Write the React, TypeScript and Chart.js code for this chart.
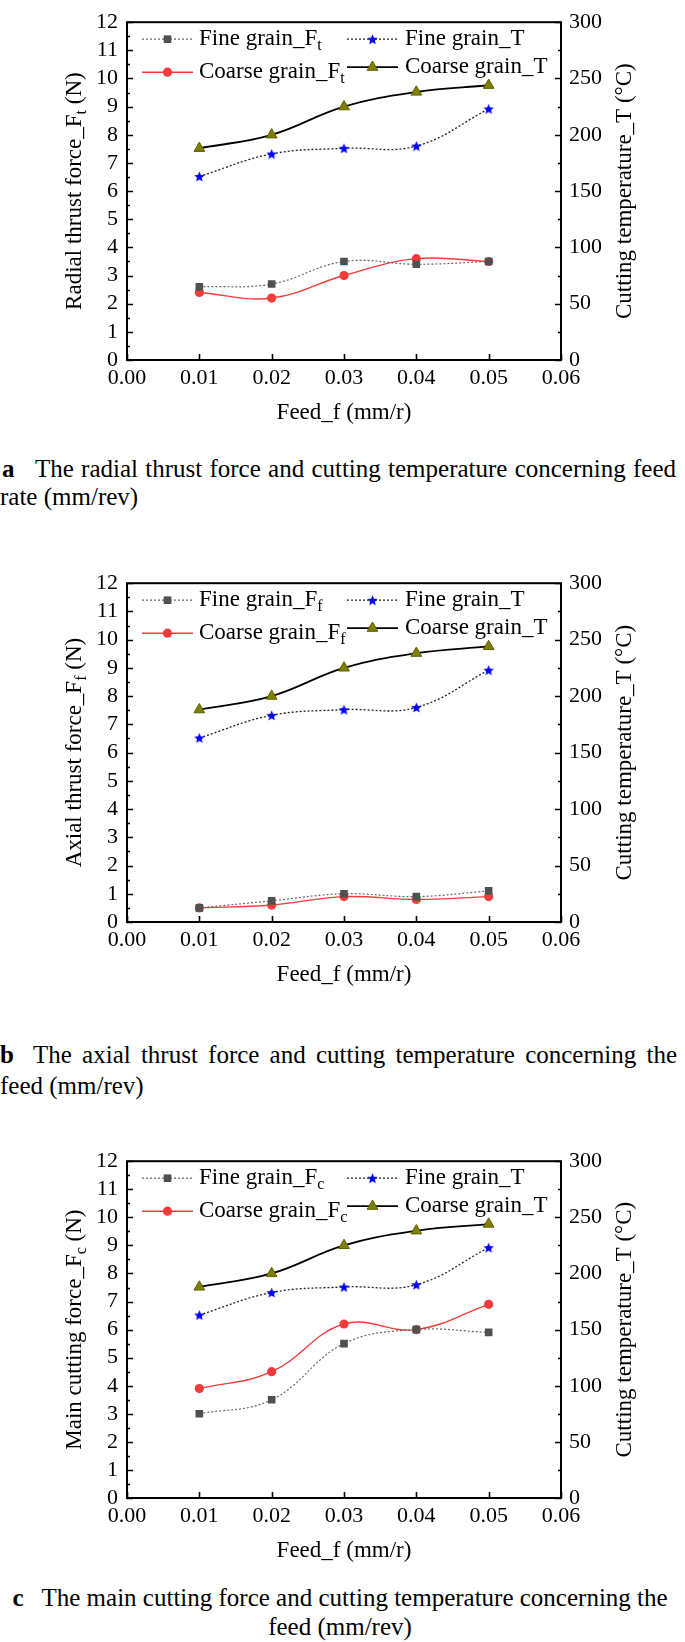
import React, { useEffect, useRef } from "react";
import { Chart, registerables } from "chart.js";
Chart.register(...registerables);

// ---------- data ----------
const FEED = [0.01, 0.02, 0.03, 0.04, 0.05];
const X_TICKS = [0, 0.01, 0.02, 0.03, 0.04, 0.05, 0.06];
const FORCE_TICKS = [0, 1, 2, 3, 4, 5, 6, 7, 8, 9, 10, 11, 12];
const TEMP_TICKS = [0, 50, 100, 150, 200, 250, 300];

const FINE_T = [163, 183, 188, 190, 223];
const COARSE_T = [188, 200, 225, 238, 244];

const FINE_FT = [2.6, 2.7, 3.5, 3.4, 3.5];
const COARSE_FT = [2.4, 2.2, 3.0, 3.6, 3.5];

const FINE_FF = [0.5, 0.75, 1.0, 0.9, 1.1];
const COARSE_FF = [0.5, 0.6, 0.9, 0.8, 0.9];

const FINE_FC = [3.0, 3.5, 5.5, 6.0, 5.9];
const COARSE_FC = [3.9, 4.5, 6.2, 6.0, 6.9];

const X_TITLE = "Feed_f (mm/r)";
const Y2_TITLE = "Cutting temperature_T (°C)";

type PanelDef = {
  plotTop: number;
  plotH: number;
  yTitle: string;
  sub: string;
  fine: number[];
  coarse: number[];
};

const PANELS: PanelDef[] = [
  { plotTop: 12, plotH: 348, yTitle: "Radial thrust force_F", sub: "t", fine: FINE_FT, coarse: COARSE_FT },
  { plotTop: 573, plotH: 349, yTitle: "Axial thrust force_F", sub: "f", fine: FINE_FF, coarse: COARSE_FF },
  { plotTop: 1151, plotH: 347, yTitle: "Main cutting force_F", sub: "c", fine: FINE_FC, coarse: COARSE_FC },
];

// ---------- style ----------
const FAMILY = '"Liberation Serif", "Times New Roman", serif';
const W = 685;
const CANVAS_H = 440;
const PAD_TOP = 12;
const LEFT_W = 127;
const RIGHT_W = 124;
const TITLE_PX = 23;
const TICK_PX = 22;

const C_FINE_F = "#505050";
const C_COARSE_F = "#f23c3c";
const C_STAR = "#0000ff";
const C_TRI = "#808000";

function makeStar(color: string, R: number) {
  const size = Math.ceil(R * 2 + 2);
  const c = document.createElement("canvas");
  c.width = size;
  c.height = size;
  const g = c.getContext("2d")!;
  g.fillStyle = color;
  g.beginPath();
  for (let i = 0; i < 10; i++) {
    const r = i % 2 === 0 ? R : R * 0.45;
    const ang = -Math.PI / 2 + (i * Math.PI) / 5;
    const px = size / 2 + r * Math.cos(ang);
    const py = size / 2 + r * Math.sin(ang) + 0.5;
    if (i === 0) g.moveTo(px, py);
    else g.lineTo(px, py);
  }
  g.closePath();
  g.fill();
  return c;
}

function ChartPanel({ p }: { p: PanelDef }) {
  const ref = useRef<HTMLCanvasElement>(null);
  useEffect(() => {
    const canvas = ref.current!;
    const star = makeStar(C_STAR, 5.5);
    const xAxisH = CANVAS_H - PAD_TOP - p.plotH;

    const drawTri = (ctx: CanvasRenderingContext2D, x: number, y: number, r: number) => {
      ctx.beginPath();
      for (let i = 0; i < 3; i++) {
        const a = -Math.PI / 2 + (i * 2 * Math.PI) / 3;
        const px = x + r * Math.cos(a);
        const py = y + r * Math.sin(a);
        if (i === 0) ctx.moveTo(px, py);
        else ctx.lineTo(px, py);
      }
      ctx.closePath();
      ctx.fillStyle = C_TRI;
      ctx.fill();
      ctx.strokeStyle = "#5e5e00";
      ctx.lineWidth = 1;
      ctx.stroke();
    };

    const framePlugin = {
      id: "frame",
      afterDraw(chart: any) {
        const ctx: CanvasRenderingContext2D = chart.ctx;
        const a = chart.chartArea;
        const sy = chart.scales.y;
        const sy2 = chart.scales.y2;
        const sx = chart.scales.x;
        ctx.save();
        // frame
        ctx.strokeStyle = "#000";
        ctx.lineWidth = 2;
        ctx.setLineDash([]);
        ctx.strokeRect(a.left, a.top, a.right - a.left, a.bottom - a.top);
        // ticks
        ctx.lineWidth = 1.6;
        ctx.beginPath();
        for (let v = 0; v <= 12.001; v += 0.5) {
          const py = Math.round(sy.getPixelForValue(v)) + 0.5;
          const len = Math.abs(v - Math.round(v)) < 1e-6 ? 6 : 3;
          ctx.moveTo(a.left, py);
          ctx.lineTo(a.left + len, py);
        }
        for (let v = 0; v <= 300.001; v += 25) {
          const py = Math.round(sy2.getPixelForValue(v)) + 0.5;
          const len = v % 50 === 0 ? 6 : 3;
          ctx.moveTo(a.right, py);
          ctx.lineTo(a.right - len, py);
        }
        X_TICKS.forEach((v) => {
          const px = Math.round(sx.getPixelForValue(v)) + 0.5;
          ctx.moveTo(px, a.bottom);
          ctx.lineTo(px, a.bottom - 6);
        });
        ctx.stroke();

        // titles
        ctx.fillStyle = "#000";
        ctx.textBaseline = "middle";
        const big = `${TITLE_PX}px ${FAMILY}`;
        const small = `${Math.round(TITLE_PX * 0.68)}px ${FAMILY}`;
        const cy = (a.top + a.bottom) / 2;
        // left title (rotated)
        ctx.save();
        ctx.translate(75, cy);
        ctx.rotate(-Math.PI / 2);
        ctx.font = big;
        const w1 = ctx.measureText(p.yTitle).width;
        const w3 = ctx.measureText(" (N)").width;
        ctx.font = small;
        const w2 = ctx.measureText(p.sub).width;
        const x0 = -(w1 + w2 + w3) / 2;
        ctx.textAlign = "left";
        ctx.font = big;
        ctx.fillText(p.yTitle, x0, 0);
        ctx.font = small;
        ctx.fillText(p.sub, x0 + w1, 7);
        ctx.font = big;
        ctx.fillText(" (N)", x0 + w1 + w2, 0);
        ctx.restore();
        // right title
        ctx.save();
        ctx.translate(625, cy);
        ctx.rotate(-Math.PI / 2);
        ctx.font = big;
        ctx.textAlign = "center";
        ctx.fillText(Y2_TITLE, 0, 0);
        ctx.restore();
        // x title
        ctx.font = big;
        ctx.textAlign = "center";
        ctx.fillText(X_TITLE, (a.left + a.right) / 2, a.bottom + 53);

        // legend
        const L = a.left;
        const T = a.top;
        const items = [
          { col: 0, y: T + 17, kind: "sq", label: "Fine grain_F", sub: p.sub },
          { col: 1, y: T + 17, kind: "star", label: "Fine grain_T", sub: "" },
          { col: 0, y: T + 50, kind: "circ", label: "Coarse grain_F", sub: p.sub },
          { col: 1, y: T + 45, kind: "tri", label: "Coarse grain_T", sub: "" },
        ];
        items.forEach((it) => {
          const lx = L + (it.col === 0 ? 15 : 220);
          const mx = lx + 25.5;
          const tx = lx + (it.col === 0 ? 57 : 58);
          ctx.save();
          ctx.beginPath();
          if (it.kind === "sq") {
            ctx.strokeStyle = "#666";
            ctx.lineWidth = 1.2;
            ctx.setLineDash([2, 2]);
          } else if (it.kind === "star") {
            ctx.strokeStyle = "#222";
            ctx.lineWidth = 1.3;
            ctx.setLineDash([2, 2]);
          } else if (it.kind === "circ") {
            ctx.strokeStyle = C_COARSE_F;
            ctx.lineWidth = 1.4;
          } else {
            ctx.strokeStyle = "#000";
            ctx.lineWidth = 1.8;
          }
          ctx.moveTo(lx, it.y);
          ctx.lineTo(lx + 51, it.y);
          ctx.stroke();
          ctx.setLineDash([]);
          if (it.kind === "sq") {
            ctx.fillStyle = C_FINE_F;
            ctx.fillRect(mx - 3.8, it.y - 3.8, 7.6, 7.6);
          } else if (it.kind === "star") {
            ctx.drawImage(star, mx - star.width / 2, it.y - star.height / 2);
          } else if (it.kind === "circ") {
            ctx.fillStyle = C_COARSE_F;
            ctx.beginPath();
            ctx.arc(mx, it.y, 4.6, 0, Math.PI * 2);
            ctx.fill();
          } else {
            drawTri(ctx, mx, it.y, 6.2);
          }
          ctx.fillStyle = "#000";
          ctx.textAlign = "left";
          ctx.textBaseline = "middle";
          ctx.font = big;
          ctx.fillText(it.label, tx, it.y);
          if (it.sub) {
            const wl = ctx.measureText(it.label).width;
            ctx.font = small;
            ctx.fillText(it.sub, tx + wl, it.y + 7);
          }
          ctx.restore();
        });
        ctx.restore();
      },
    };

    const pts = (ys: number[]) => FEED.map((x, i) => ({ x, y: ys[i] }));
    const tickFont = { family: FAMILY, size: TICK_PX };
    const noGrid = { display: false, drawTicks: false, tickLength: 0 };

    const chart = new Chart(canvas, {
      type: "line",
      data: {
        datasets: [
          {
            label: "Fine grain_F",
            data: pts(p.fine),
            yAxisID: "y",
            borderColor: "#666",
            borderWidth: 1.2,
            borderDash: [2, 2],
            tension: 0.4,
            pointStyle: "rect",
            pointRadius: 5.4,
            pointBackgroundColor: C_FINE_F,
            pointBorderColor: C_FINE_F,
            pointBorderWidth: 0,
          },
          {
            label: "Coarse grain_F",
            data: pts(p.coarse),
            yAxisID: "y",
            borderColor: C_COARSE_F,
            borderWidth: 1.4,
            tension: 0.4,
            pointStyle: "circle",
            pointRadius: 4.6,
            pointBackgroundColor: C_COARSE_F,
            pointBorderColor: C_COARSE_F,
            pointBorderWidth: 0,
          },
          {
            label: "Fine grain_T",
            data: pts(FINE_T),
            yAxisID: "y2",
            borderColor: "#222",
            borderWidth: 1.3,
            borderDash: [2, 2],
            tension: 0.4,
            pointStyle: star as any,
            pointRadius: 6,
            pointBorderWidth: 0,
          },
          {
            label: "Coarse grain_T",
            data: pts(COARSE_T),
            yAxisID: "y2",
            borderColor: "#000",
            borderWidth: 1.8,
            tension: 0.4,
            pointStyle: "triangle",
            pointRadius: 6.2,
            pointBackgroundColor: C_TRI,
            pointBorderColor: "#5e5e00",
            pointBorderWidth: 1,
          },
        ],
      } as any,
      options: {
        animation: false,
        responsive: false,
        maintainAspectRatio: false,
        layout: { padding: { top: PAD_TOP, left: 0, right: 0, bottom: 0 } },
        plugins: { legend: { display: false }, tooltip: { enabled: false } },
        scales: {
          x: {
            type: "linear",
            min: 0,
            max: 0.06,
            grid: noGrid,
            border: { display: false },
            ticks: {
              font: tickFont,
              color: "#000",
              padding: 5,
              maxRotation: 0,
              autoSkip: false,
              callback: (v: any) => Number(v).toFixed(2),
            },
            afterBuildTicks: (s: any) => {
              s.ticks = X_TICKS.map((v) => ({ value: v }));
            },
            afterFit: (s: any) => {
              s.height = xAxisH;
            },
          },
          y: {
            type: "linear",
            position: "left",
            min: 0,
            max: 12,
            grid: noGrid,
            border: { display: false },
            ticks: { font: tickFont, color: "#000", padding: 9, autoSkip: false },
            afterBuildTicks: (s: any) => {
              s.ticks = FORCE_TICKS.map((v) => ({ value: v }));
            },
            afterFit: (s: any) => {
              s.width = LEFT_W;
            },
          },
          y2: {
            type: "linear",
            position: "right",
            min: 0,
            max: 300,
            grid: noGrid,
            border: { display: false },
            ticks: { font: tickFont, color: "#000", padding: 8, autoSkip: false },
            afterBuildTicks: (s: any) => {
              s.ticks = TEMP_TICKS.map((v) => ({ value: v }));
            },
            afterFit: (s: any) => {
              s.width = RIGHT_W;
            },
          },
        },
      } as any,
      plugins: [framePlugin as any],
    });
    return () => chart.destroy();
  }, [p]);
  return (
    <canvas
      ref={ref}
      width={W}
      height={CANVAS_H}
      style={{ position: "absolute", left: 0, top: p.plotTop - PAD_TOP, width: W, height: CANVAS_H }}
    />
  );
}

const CAP_PX = 25;
const capBase: React.CSSProperties = {
  position: "absolute",
  fontFamily: FAMILY,
  fontSize: CAP_PX,
  lineHeight: "28px",
  color: "#000",
  whiteSpace: "nowrap",
};

function JustLine({ top, left, width, letter, text }: { top: number; left: number; width: number; letter: string; text: string }) {
  return (
    <div style={{ ...capBase, top: top - 14, left, width, display: "flex" }}>
      <b style={{ width: 33, flex: "none" }}>{letter}</b>
      <span style={{ flex: 1, textAlign: "justify", textAlignLast: "justify", whiteSpace: "normal" }}>{text}</span>
    </div>
  );
}

export default function App() {
  return (
    <div style={{ position: "absolute", left: 0, top: 0, width: W, height: 1642, background: "#fff", overflow: "hidden" }}>
      {PANELS.map((p, i) => (
        <ChartPanel key={i} p={p} />
      ))}
      <JustLine top={469} left={2} width={674} letter="a" text="The radial thrust force and cutting temperature concerning feed" />
      <div style={{ ...capBase, top: 497 - 14, left: 0 }}>rate (mm/rev)</div>

      <JustLine top={1055} left={0} width={677} letter="b" text="The axial thrust force and cutting temperature concerning the" />
      <div style={{ ...capBase, top: 1086 - 14, left: 0 }}>feed (mm/rev)</div>

      <div style={{ ...capBase, top: 1598 - 14, left: 0, width: 680, textAlign: "center" }}>
        <b>c</b>
        <span style={{ marginLeft: 18 }}>The main cutting force and cutting temperature concerning the</span>
      </div>
      <div style={{ ...capBase, top: 1627 - 14, left: 0, width: 680, textAlign: "center" }}>feed (mm/rev)</div>
    </div>
  );
}
